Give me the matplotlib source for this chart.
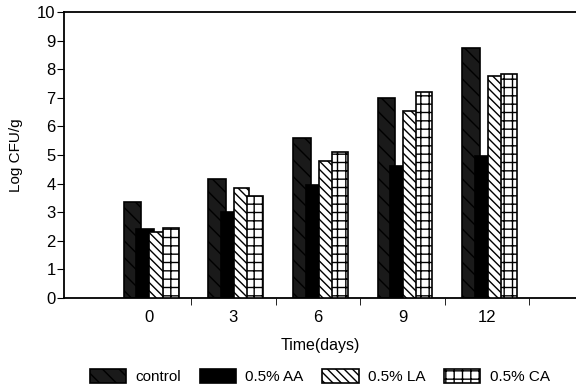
import numpy as np
import matplotlib.pyplot as plt

days = ['0', '3', '6', '9', '12']
control = [3.35, 4.15, 5.6, 7.0, 8.75]
aa = [2.4, 3.0, 3.95, 4.6, 4.95]
la = [2.3, 3.85, 4.8, 6.55, 7.75]
ca = [2.45, 3.55, 5.1, 7.2, 7.85]

plt.rcParams['font.family'] = ['Liberation Sans', 'DejaVu Sans']
plt.rcParams['hatch.linewidth'] = 1.0

fig = plt.figure(figsize=(5.76, 3.89), dpi=100)
ax = fig.add_axes([0.111, 0.234, 0.889, 0.735])

x = np.arange(len(days))
w = 0.21
ax.bar(x - 0.19, control, w, color='#1a1a1a', edgecolor='black', linewidth=1.2,
       hatch='\\\\', label='control', zorder=2)
ax.bar(x - 0.04, aa, w, color='black', edgecolor='black', linewidth=1.2,
       label='0.5% AA', zorder=3)
ax.bar(x + 0.10, la, w * 0.85, color='white', edgecolor='black', linewidth=1.2,
       hatch='\\\\\\\\', label='0.5% LA', zorder=4)
ax.bar(x + 0.26, ca, w * 0.9, color='white', edgecolor='black', linewidth=1.2,
       hatch='++', label='0.5% CA', zorder=5)

ax.set_xlim(-1.0, 5.05)
ax.set_ylim(0, 10)
ax.set_yticks(range(0, 11))
ax.set_xticks(x)
ax.set_xticklabels(days)
ax.set_xticks([0.5, 1.5, 2.5, 3.5, 4.5], minor=True)
ax.tick_params(axis='x', which='major', length=0, labelsize=12, pad=9)
ax.tick_params(axis='x', which='minor', length=5, direction='out')
ax.tick_params(axis='y', length=5, direction='out', labelsize=12, pad=1)
ax.spines['right'].set_visible(False)
for s in ax.spines.values():
    s.set_linewidth(1.3)

ax.set_xlabel('Time(days)', fontsize=11.5, labelpad=9)
ax.set_ylabel('Log CFU/g', fontsize=11, labelpad=10)

fig.legend(loc='center', bbox_to_anchor=(0.555, 0.032), ncol=4, frameon=False,
           fontsize=11, handlelength=2.4, handleheight=1.0, columnspacing=1.2,
           handletextpad=0.6)

fig.savefig('out.png', dpi=100)
